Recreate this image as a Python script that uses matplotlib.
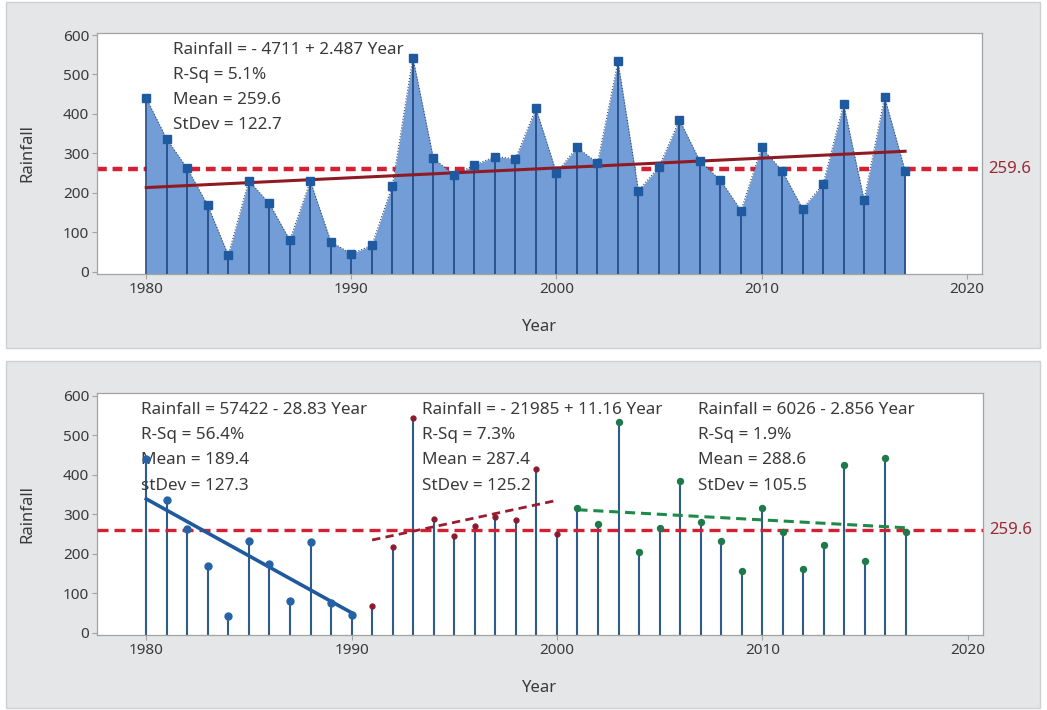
import matplotlib.pyplot as plt
from matplotlib.patches import Rectangle

plt.rcParams['font.family'] = ['Noto Sans', 'DejaVu Sans']

# annual rainfall, 1980-2017
years = list(range(1980, 2018))
rainfall = [440, 336, 262, 168, 42, 231, 173, 80, 230, 76, 45,
            67, 218, 543, 288, 245, 270, 292, 286, 414, 251,
            315, 276, 533, 205, 266, 385, 280, 232, 155, 315, 256,
            160, 222, 425, 182, 443, 256]

overall_mean = 259.6
overall_fit = (-4711, 2.487)
overall_stats = ['Rainfall = - 4711 + 2.487 Year', 'R-Sq = 5.1%',
                 'Mean = 259.6', 'StDev = 122.7']

# sub-periods and their own regressions
periods = [(1980, 1990), (1991, 2000), (2001, 2017)]
period_fits = [(57422, -28.83), (-21985, 11.16), (6026, -2.856)]
period_stats = [
    ['Rainfall = 57422 - 28.83 Year', 'R-Sq = 56.4%', 'Mean = 189.4', 'stDev = 127.3'],
    ['Rainfall = - 21985 + 11.16 Year', 'R-Sq = 7.3%', 'Mean = 287.4', 'StDev = 125.2'],
    ['Rainfall = 6026 - 2.856 Year', 'R-Sq = 1.9%', 'Mean = 288.6', 'StDev = 105.5'],
]
period_text_x = [1979.75, 1993.45, 2006.85]

YMIN, YMAX = -6, 606
XMIN, XMAX = 1977.6, 2020.75
TXT = '#3a3a3a'
MEAN_RED = '#d42033'
NOTE_SIZE = 12.3

fig = plt.figure(figsize=(10.47, 7.10), dpi=100)
W, H = 1047, 710
for top, bot in [(2, 348), (361, 708)]:
    fig.add_artist(Rectangle((6 / W, 1 - bot / H), (1040 - 6) / W, (bot - top) / H,
                             transform=fig.transFigure, facecolor='#e4e6e7',
                             edgecolor='#cdd0d2', lw=1, zorder=0))

ax1 = fig.add_axes([97 / W, 1 - 274 / H, 885 / W, 241.3 / H])
ax2 = fig.add_axes([97 / W, 1 - 635 / H, 886 / W, 241.7 / H])


def style_axes(ax):
    ax.set_xlim(XMIN, XMAX)
    ax.set_ylim(YMIN, YMAX)
    ax.set_xticks(range(1980, 2021, 10))
    ax.set_yticks(range(0, 601, 100))
    for s in ax.spines.values():
        s.set_color('#a3a3a3')
        s.set_linewidth(0.9)
    ax.tick_params(colors='#a3a3a3', labelcolor=TXT, labelsize=11, length=3.5,
                   width=0.8, pad=2)
    ax.set_xlabel('Year', fontsize=12, color=TXT)
    ax.set_ylabel('Rainfall', fontsize=12, color=TXT)
    ax.yaxis.set_label_coords(-0.07, 0.5)
    ax.xaxis.set_label_coords(0.5, -0.185)
    ax.axhline(overall_mean, color=MEAN_RED, lw=2.4 if ax is ax2 else 3.2,
               ls=(0, (3.3, 1.8)) if ax is ax2 else (0, (2.2, 1.3)),
               zorder=1 if ax is ax1 else 3)
    ax.text(1.007, overall_mean, '259.6', transform=ax.get_yaxis_transform(),
            color='#9c2a36', fontsize=12, va='center', ha='left', clip_on=False)


# top: area graph with overall fit
style_axes(ax1)
ax1.fill_between(years, rainfall, YMIN, color='#729dd6', lw=0, zorder=2)
ax1.plot(years, rainfall, color='#3b4a62', lw=0.8, ls=':', zorder=3)
ax1.vlines(years, YMIN, rainfall, color='#1e4680', lw=1.2, zorder=3)
b0, b1 = overall_fit
ax1.plot([years[0], years[-1]], [b0 + b1 * years[0], b0 + b1 * years[-1]],
         color='#8e1b24', lw=2.2, zorder=4)
ax1.plot(years, rainfall, 's', color='#1f5aa0', ms=5.5, zorder=5)
for i, line in enumerate(overall_stats):
    ax1.text(1981.3, 562 - i * 63.5, line, fontsize=NOTE_SIZE, color=TXT, va='center')

# bottom: stems split by period, each with its own fit
style_axes(ax2)
ax2.vlines(years, YMIN, rainfall, color='#2e5b8c', lw=1.5, zorder=2)
fit_styles = [dict(color='#1f5a9e', lw=2.6, ls='-'),
              dict(color='#9b1b30', lw=2.0, ls=(0, (3.0, 1.9))),
              dict(color='#1e8a4a', lw=2.2, ls=(0, (3.3, 1.9)))]
marker_styles = [dict(color='#2663a6', ms=5),
                 dict(color='#8b1a2e', ms=3.5),
                 dict(color='#1e7a4a', ms=4.3)]
for (y0, y1), (b0, b1), fst, mst, stats, tx in zip(periods, period_fits, fit_styles,
                                                   marker_styles, period_stats,
                                                   period_text_x):
    i0, i1 = years.index(y0), years.index(y1) + 1
    ax2.plot(years[i0:i1], rainfall[i0:i1], 'o', ls='none', zorder=5, **mst)
    ax2.plot([y0, y1], [b0 + b1 * y0, b0 + b1 * y1], zorder=4, **fst)
    for i, line in enumerate(stats):
        ax2.text(tx, 563 - i * 63.5, line, fontsize=NOTE_SIZE, color=TXT, va='center')

fig.savefig('out.png', dpi=100)
